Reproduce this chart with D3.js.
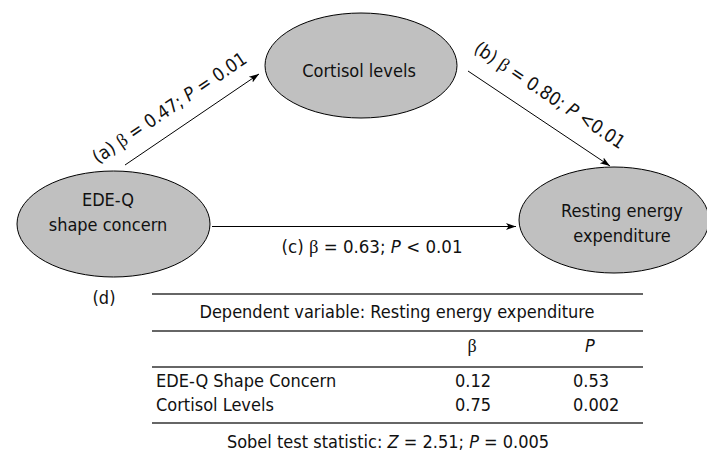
<!DOCTYPE html>
<html>
<head>
<meta charset="utf-8">
<script src="https://cdn.jsdelivr.net/npm/d3@7"></script>
<style>
  body { margin: 0; background: #fff; }
  text { font-family: "DejaVu Sans Condensed", "DejaVu Sans", sans-serif; fill: #111; }
  .greek { font-family: "Liberation Serif", "DejaVu Serif", serif; }
  .ital { font-style: italic; }
</style>
</head>
<body>
<div id="chart"></div>
<script>
// node names (mediation model)
var nodeNames = [["EDE-Q", "shape concern"], ["Cortisol levels"], ["Resting energy", "expenditure"]];
// paths: label, beta, P
var pathTags = ["(a)", "(b)", "(c)"];
var pathBeta = ["0.47", "0.80", "0.63"];
var pathP = ["= 0.01", "<0.01", "< 0.01"];
// table (d)
var tableTitle = "Dependent variable: Resting energy expenditure";
var tableRows = ["EDE-Q Shape Concern", "Cortisol Levels"];
var tableBeta = ["0.12", "0.75"];
var tableP = ["0.53", "0.002"];
var sobelZ = "2.51";
var sobelP = "0.005";

function init() {
    var w = 707;
    var h = 455;

    var svg = d3.select("#chart")
        .append("svg")
        .attr("width", w)
        .attr("height", h);

    svg.append("defs").append("marker")
        .attr("id", "arrow")
        .attr("viewBox", "0 0 10 10")
        .attr("refX", 10)
        .attr("refY", 5)
        .attr("markerWidth", 10)
        .attr("markerHeight", 10)
        .attr("markerUnits", "userSpaceOnUse")
        .attr("orient", "auto")
        .append("path")
        .attr("d", "M0,1.5 L10,5 L0,8.5 L2.5,5 Z")
        .attr("fill", "#000");

    // node layout
    var nodes = [
        { cx: 113.5, cy: 224, rx: 96.5, ry: 53, tx: 108, ty: 206 },
        { cx: 361, cy: 65.5, rx: 96, ry: 52.5, tx: 359, ty: 77 },
        { cx: 614, cy: 220, rx: 95, ry: 53, tx: 622, ty: 217 }
    ];
    // arrow endpoints
    var ends = [
        [[125, 165], [259, 74]],
        [[468, 71], [610, 166]],
        [[212, 226.5], [516, 226.5]]
    ];

    function rich(sel, parts) {
        parts.forEach(function(p) {
            var t = sel.append("tspan").text(p[0]);
            if (p[1]) t.attr("class", p[1]);
        });
    }

    svg.selectAll("ellipse")
        .data(nodes)
        .enter()
        .append("ellipse")
        .attr("cx", function(d) { return d.cx; })
        .attr("cy", function(d) { return d.cy; })
        .attr("rx", function(d) { return d.rx; })
        .attr("ry", function(d) { return d.ry; })
        .attr("fill", "#c0c0c0")
        .attr("stroke", "#000")
        .attr("stroke-width", 1);

    nodeNames.forEach(function(lines, i) {
        var n = nodes[i];
        lines.forEach(function(s, j) {
            svg.append("text")
                .attr("x", n.tx)
                .attr("y", n.ty + j * 25)
                .attr("text-anchor", "middle")
                .attr("font-size", 18)
                .text(s);
        });
    });

    pathTags.forEach(function(tag, i) {
        var p0 = ends[i][0], p1 = ends[i][1];
        svg.append("line")
            .attr("x1", p0[0]).attr("y1", p0[1])
            .attr("x2", p1[0]).attr("y2", p1[1])
            .attr("stroke", "#000")
            .attr("stroke-width", 1)
            .attr("marker-end", "url(#arrow)");

        var dx = p1[0] - p0[0], dy = p1[1] - p0[1];
        var len = Math.sqrt(dx * dx + dy * dy);
        var ang = Math.atan2(dy, dx) * 180 / Math.PI;
        var ux = dx / len, uy = dy / len;
        var mx = (p0[0] + p1[0]) / 2, my = (p0[1] + p1[1]) / 2;
        var lx, ly;
        if (i === 2) {
            lx = 372; ly = 253; ang = 0;
        } else {
            // normal pointing above the line
            var nx = uy, ny = -ux;
            if (ny > 0) { nx = -nx; ny = -ny; }
            var along = i === 0 ? -12 : -4;
            var off = i === 0 ? 16 : 19;
            lx = mx + ux * along + nx * off;
            ly = my + uy * along + ny * off;
        }
        var t = svg.append("text")
            .attr("text-anchor", "middle")
            .attr("font-size", 18.5)
            .attr("transform", "translate(" + lx + "," + ly + ") rotate(" + ang + ")");
        rich(t, [[tag + " "], ["β", "greek"], [" = " + pathBeta[i] + "; "], ["P", "ital"], [" " + pathP[i]]]);
    });

    // table (d)
    svg.append("text")
        .attr("x", 104).attr("y", 304)
        .attr("text-anchor", "middle")
        .attr("font-size", 18)
        .text("(d)");

    var x0 = 152, x1 = 643;
    var rules = [294, 331, 367, 423];
    svg.selectAll("line.rule")
        .data(rules)
        .enter()
        .append("line")
        .attr("class", "rule")
        .attr("x1", x0).attr("x2", x1)
        .attr("y1", function(d) { return d; })
        .attr("y2", function(d) { return d; })
        .attr("stroke", "#333")
        .attr("stroke-width", 1.3);

    svg.append("text")
        .attr("x", 397).attr("y", 318)
        .attr("text-anchor", "middle")
        .attr("font-size", 18)
        .text(tableTitle);

    var colBeta = 472, colP = 590;
    svg.append("text").attr("x", colBeta).attr("y", 352)
        .attr("text-anchor", "middle").attr("font-size", 18)
        .attr("class", "greek").text("β");
    svg.append("text").attr("x", colP).attr("y", 352)
        .attr("text-anchor", "middle").attr("font-size", 18)
        .attr("class", "ital").text("P");

    var yRow = d3.scalePoint()
        .domain(tableRows)
        .range([387, 411]);

    var rows = svg.selectAll("g.row")
        .data(tableRows)
        .enter()
        .append("g")
        .attr("class", "row")
        .attr("transform", function(d) { return "translate(0," + yRow(d) + ")"; });

    rows.append("text").attr("x", 156).attr("font-size", 18)
        .text(function(d) { return d; });
    rows.append("text").attr("x", 455).attr("font-size", 18)
        .text(function(d, i) { return tableBeta[i]; });
    rows.append("text").attr("x", 573).attr("font-size", 18)
        .text(function(d, i) { return tableP[i]; });

    var sob = svg.append("text")
        .attr("x", 388).attr("y", 448)
        .attr("text-anchor", "middle")
        .attr("font-size", 18);
    rich(sob, [["Sobel test statistic: "], ["Z", "ital"], [" = " + sobelZ + "; "], ["P", "ital"], [" = " + sobelP]]);
}

window.onload = init;
</script>
</body>
</html>
